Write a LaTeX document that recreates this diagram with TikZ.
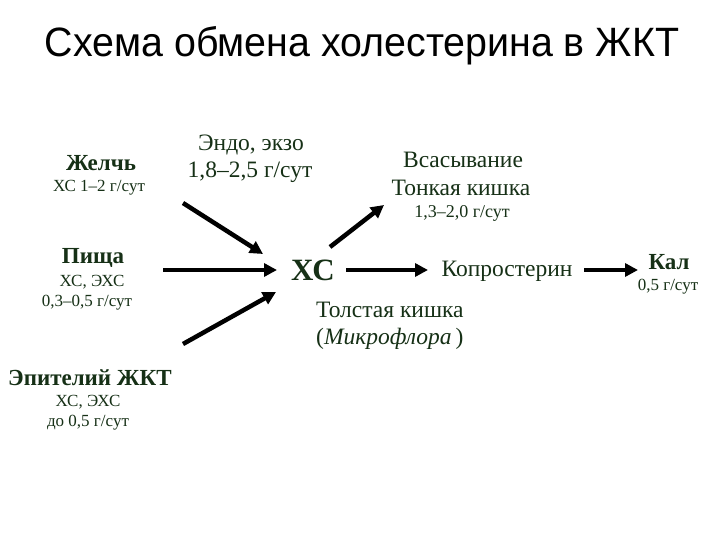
\documentclass[tikz,border=0pt]{standalone}
\usepackage{fontspec}
\setmainfont{Liberation Serif}
\newfontfamily\titlefont{Liberation Sans}
\usetikzlibrary{arrows.meta}
\definecolor{txtgreen}{RGB}{22,48,22}
\begin{document}
\begin{tikzpicture}[x=1pt,y=-1pt,
  lbl/.style={text=txtgreen,inner sep=0pt,align=center},
  bigb/.style={lbl,font=\fontsize{23}{25}\selectfont\bfseries},
  med/.style={lbl,font=\fontsize{23.5}{26}\selectfont},
  sml/.style={lbl,font=\fontsize{17}{19}\selectfont},
  smr/.style={lbl,font=\fontsize{18}{20}\selectfont},
  arr/.style={line width=4.5pt,-{Triangle[length=13pt,width=13pt]}}]
\useasboundingbox[fill=white] (0,0) rectangle (720,540);
\node[inner sep=0pt,font=\titlefont\fontsize{41}{44}\selectfont] (title) at (362,46) {\scalebox{0.96}[1]{Схема обмена холестерина в ЖКТ}};
% left sources
\node[bigb] (zh) at (101,163) {Желчь};
\node[sml] (zh2) at (99,188) {ХС 1–2 г/сут};
\node[bigb] (pi) at (93,258) {Пища};
\node[sml] (pi2) at (92,282) {ХС, ЭХС};
\node[sml] (pi3) at (87,303) {0,3–0,5 г/сут};
\node[bigb] (ep) at (90,378) {Эпителий ЖКТ};
\node[sml] (ep2) at (88,402) {ХС, ЭХС};
\node[sml] (ep3) at (88,423) {до 0,5 г/сут};
\node[med] (en) at (251,145) {Эндо, экзо};
\node[med] (en2) at (250,172) {1,8–2,5 г/сут};
% centre
\node[lbl,font=\fontsize{31}{33}\selectfont\bfseries] (xc) at (313,270) {ХС};
% right
\node[med] (vs) at (463,160) {Всасывание};
\node[med] (vs2) at (461,188) {Тонкая кишка};
\node[smr] (vs3) at (462,213) {1,3–2,0 г/сут};
\node[med] (kop) at (507,271) {Копростерин};
\node[bigb] (kal) at (669,262) {Кал};
\node[sml] (kal2) at (668,287) {0,5 г/сут};
\node[med,anchor=west] (tk) at (316,310) {Толстая кишка};
\node[med,anchor=west] (mf) at (316,339) {(\textit{Микрофлора}\,)};
% arrow coordinates
\coordinate (a1s) at (183,203); \coordinate (a1e) at (263,254);
\coordinate (a2s) at (163,270); \coordinate (a2e) at (277,270);
\coordinate (a3s) at (183,344); \coordinate (a3e) at (276,292);
\coordinate (a4s) at (330,247); \coordinate (a4e) at (384,205);
\coordinate (a5s) at (346,270); \coordinate (a5e) at (428,270);
\coordinate (a6s) at (584,270); \coordinate (a6e) at (638,270);
\draw[arr] (a1s) -- (a1e);
\draw[arr] (a2s) -- (a2e);
\draw[arr] (a3s) -- (a3e);
\draw[arr] (a4s) -- (a4e);
\draw[arr] (a5s) -- (a5e);
\draw[arr] (a6s) -- (a6e);
\end{tikzpicture}
\end{document}
